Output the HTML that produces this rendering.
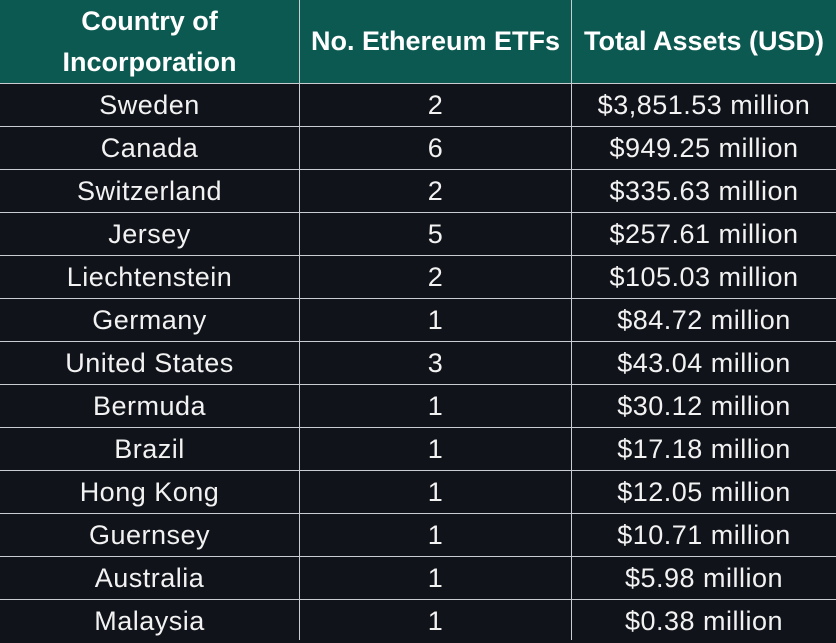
<!DOCTYPE html>
<html><head><meta charset="utf-8"><style>
html,body{margin:0;padding:0;}
body{width:836px;height:640px;overflow:hidden;background:#10131a;position:relative;font-family:"Liberation Sans",sans-serif;}
.hdr{position:absolute;left:0;top:0;width:836px;height:83px;background:#0b5951;}
.h{position:absolute;top:0;height:83px;display:flex;align-items:center;justify-content:center;text-align:center;color:#fff;font-weight:bold;font-size:27px;line-height:41px;}
.hl{position:absolute;left:0;width:836px;height:1px;background:#c9ccd0;}
.vl{position:absolute;top:0;width:1px;height:640px;background:#c9ccd0;}
.c{position:absolute;height:43px;line-height:43px;text-align:center;color:#f2f2f2;font-size:27px;letter-spacing:0.5px;white-space:nowrap;}
.c1{left:0;width:299px;}
.c2{left:300px;width:271px;}
.c3{left:572px;width:264px;}
</style></head><body>
<div class="hdr"></div>
<div class="h" style="left:0;width:299px;">Country of<br>Incorporation</div>
<div class="h" style="left:300px;width:271px;">No. Ethereum ETFs</div>
<div class="h" style="left:572px;width:264px;">Total Assets (USD)</div>

<div class="vl" style="left:299px"></div>
<div class="vl" style="left:571px"></div>

<div class="hl" style="top:83px"></div>
<div class="hl" style="top:126px"></div>
<div class="hl" style="top:169px"></div>
<div class="hl" style="top:212px"></div>
<div class="hl" style="top:255px"></div>
<div class="hl" style="top:298px"></div>
<div class="hl" style="top:341px"></div>
<div class="hl" style="top:384px"></div>
<div class="hl" style="top:427px"></div>
<div class="hl" style="top:470px"></div>
<div class="hl" style="top:513px"></div>
<div class="hl" style="top:556px"></div>
<div class="hl" style="top:599px"></div>

<div class="c c1" style="top:84px">Sweden</div><div class="c c2" style="top:84px">2</div><div class="c c3" style="top:84px">$3,851.53 million</div>
<div class="c c1" style="top:127px">Canada</div><div class="c c2" style="top:127px">6</div><div class="c c3" style="top:127px">$949.25 million</div>
<div class="c c1" style="top:170px">Switzerland</div><div class="c c2" style="top:170px">2</div><div class="c c3" style="top:170px">$335.63 million</div>
<div class="c c1" style="top:213px">Jersey</div><div class="c c2" style="top:213px">5</div><div class="c c3" style="top:213px">$257.61 million</div>
<div class="c c1" style="top:256px">Liechtenstein</div><div class="c c2" style="top:256px">2</div><div class="c c3" style="top:256px">$105.03 million</div>
<div class="c c1" style="top:299px">Germany</div><div class="c c2" style="top:299px">1</div><div class="c c3" style="top:299px">$84.72 million</div>
<div class="c c1" style="top:342px">United States</div><div class="c c2" style="top:342px">3</div><div class="c c3" style="top:342px">$43.04 million</div>
<div class="c c1" style="top:385px">Bermuda</div><div class="c c2" style="top:385px">1</div><div class="c c3" style="top:385px">$30.12 million</div>
<div class="c c1" style="top:428px">Brazil</div><div class="c c2" style="top:428px">1</div><div class="c c3" style="top:428px">$17.18 million</div>
<div class="c c1" style="top:471px">Hong Kong</div><div class="c c2" style="top:471px">1</div><div class="c c3" style="top:471px">$12.05 million</div>
<div class="c c1" style="top:514px">Guernsey</div><div class="c c2" style="top:514px">1</div><div class="c c3" style="top:514px">$10.71 million</div>
<div class="c c1" style="top:557px">Australia</div><div class="c c2" style="top:557px">1</div><div class="c c3" style="top:557px">$5.98 million</div>
<div class="c c1" style="top:600px">Malaysia</div><div class="c c2" style="top:600px">1</div><div class="c c3" style="top:600px">$0.38 million</div>
</body></html>
